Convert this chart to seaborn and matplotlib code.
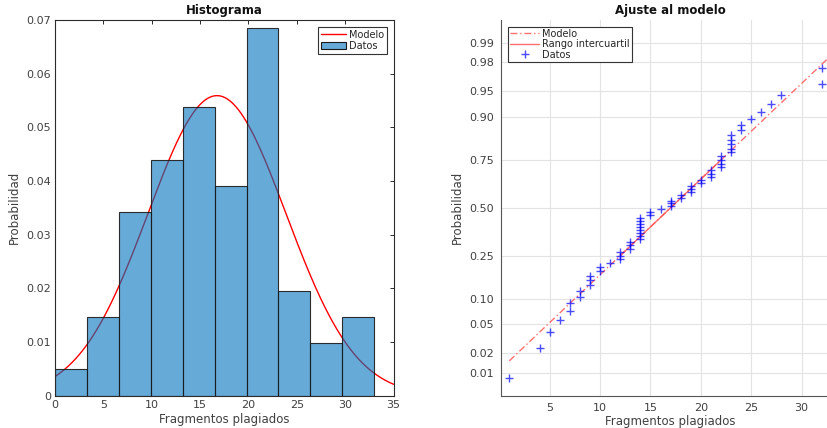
import numpy as np
import matplotlib
matplotlib.use("Agg")
import matplotlib.pyplot as plt
import seaborn as sns
from statistics import NormalDist
from matplotlib.lines import Line2D
from matplotlib.patches import Patch

# Número de fragmentos plagiados por documento (n = 62)
fragmentos = [1, 4, 5, 6, 7, 7, 8, 8, 9, 9, 9, 10, 10, 11, 12, 12, 12,
              13, 13, 13, 14, 14, 14, 14, 14, 14, 14, 14, 15, 15, 16,
              17, 17, 17, 18, 18, 19, 19, 19, 20, 20, 21, 21, 21,
              22, 22, 22, 22, 23, 23, 23, 23, 23, 24, 24, 25, 26, 27,
              28, 32, 32, 33]
bordes_hist = np.linspace(0, 33, 11)
hist_xticks = [0, 5, 10, 15, 20, 25, 30, 35]
hist_yticks = [0, 0.01, 0.02, 0.03, 0.04, 0.05, 0.06, 0.07]
hist_ylabels = ["0", "0.01", "0.02", "0.03", "0.04", "0.05", "0.06", "0.07"]
prob_ticks = [0.01, 0.02, 0.05, 0.10, 0.25, 0.50, 0.75, 0.90, 0.95, 0.98, 0.99]
prob_labels = ["0.01", "0.02", "0.05", "0.10", "0.25", "0.50",
               "0.75", "0.90", "0.95", "0.98", "0.99"]
qq_xticks = [5, 10, 15, 20, 25, 30]

sns.set_theme(style="white")
plt.rcParams["font.family"] = ["DejaVu Sans"]

TXT = "#404040"
AXC = "#2b2b2b"

datos = np.array(fragmentos, dtype=float)
n = len(datos)
mu = datos.mean()
sd = datos.std(ddof=1)
nd = NormalDist()

fig = plt.figure(figsize=(8.28, 4.28), dpi=100)
ax1 = fig.add_axes([0.0664, 0.0755, 0.409, 0.878])
ax2 = fig.add_axes([0.6054, 0.0755, 0.409, 0.878])

# ---------- Histograma con la normal ajustada ----------
xs = np.linspace(0, 35, 400)
pdf = np.exp(-0.5 * ((xs - mu) / sd) ** 2) / (sd * np.sqrt(2 * np.pi))
sns.lineplot(x=xs, y=pdf, color="red", linewidth=1.0, ax=ax1, zorder=1)
sns.histplot(x=datos, bins=bordes_hist, stat="density", ax=ax1,
             color="#0072BD", zorder=2)
for p in ax1.patches:
    p.set_alpha(None)
    p.set_facecolor((0.0, 0.447, 0.741, 0.6))
    p.set_edgecolor((0.1, 0.1, 0.1, 0.9))
    p.set_linewidth(0.8)

ax1.set_xlim(0, 35)
ax1.set_ylim(0, 0.07)
ax1.set_xticks(hist_xticks)
ax1.set_yticks(hist_yticks)
ax1.set_yticklabels(hist_ylabels)
ax1.tick_params(direction="in", top=True, right=True, length=3, width=0.7,
                labelsize=8, colors=AXC, labelcolor=TXT, pad=3)
for s in ax1.spines.values():
    s.set_color(AXC)
    s.set_linewidth(0.8)
ax1.set_title("Histograma", fontsize=8.5, fontweight="bold", color="#111111", pad=4)
ax1.set_xlabel("Fragmentos plagiados", fontsize=8.5, color=TXT, labelpad=2)
ax1.set_ylabel("Probabilidad", fontsize=8.5, color=TXT, labelpad=4)
h1 = [Line2D([], [], color="red", lw=1.0),
      Patch(facecolor=(0.0, 0.447, 0.741, 0.6), edgecolor="#1a1a1a", lw=0.8)]
leg1 = ax1.legend(h1, ["Modelo", "Datos"], loc="upper right", fontsize=7,
                  fancybox=False, framealpha=1, edgecolor="#333333",
                  borderpad=0.3, handlelength=2.6, handletextpad=0.3,
                  labelspacing=0.1, borderaxespad=0.7)
leg1.get_frame().set_linewidth(0.8)
for t in leg1.get_texts():
    t.set_color("#262626")

# ---------- Gráfico de probabilidad normal ----------
orden = np.sort(datos)
z = np.array([nd.inv_cdf((i - 0.5) / n) for i in range(1, n + 1)])
q1, q3 = np.percentile(orden, [25, 75], method="hazen")
zq = nd.inv_cdf(0.75)
pend = (2 * zq) / (q3 - q1)
centro = (q1 + q3) / 2
lx = np.array([orden[0], orden[-1]])
sns.lineplot(x=lx, y=(lx - centro) * pend, ax=ax2, color="#ff4d4d",
             linewidth=1.0, linestyle=(0, (5, 2, 1, 2)), alpha=0.8, zorder=2)
iq = np.array([q1, q3])
sns.lineplot(x=iq, y=(iq - centro) * pend, ax=ax2, color="#ff4d4d",
             linewidth=1.0, alpha=0.8, zorder=2)
sns.scatterplot(x=orden, y=z, ax=ax2, marker="+", color="blue", s=40,
                linewidth=1.0, alpha=0.7, zorder=3)

rango = orden[-1] - orden[0]
ax2.set_xlim(orden[0] - 0.025 * rango, orden[-1] + 0.025 * rango)
zlim = nd.inv_cdf(1 - 0.25 / n)
ax2.set_ylim(-zlim, zlim)
ax2.set_xticks(qq_xticks)
ax2.set_yticks([nd.inv_cdf(p) for p in prob_ticks])
ax2.set_yticklabels(prob_labels)
ax2.grid(True, color="#e3e3e3", linewidth=0.8)
ax2.set_axisbelow(True)
ax2.tick_params(direction="in", length=0, labelsize=8, colors=AXC,
                labelcolor=TXT, pad=5)
ax2.spines["top"].set_visible(False)
ax2.spines["right"].set_visible(False)
for s in ("left", "bottom"):
    ax2.spines[s].set_color("#555555")
    ax2.spines[s].set_linewidth(0.8)
ax2.set_title("Ajuste al modelo", fontsize=8.5, fontweight="bold", color="#111111", pad=4)
ax2.set_xlabel("Fragmentos plagiados", fontsize=8.5, color=TXT, labelpad=2)
ax2.set_ylabel("Probabilidad", fontsize=8.5, color=TXT, labelpad=4)
h2 = [Line2D([], [], color="#ff4d4d", lw=1.0, ls=(0, (5, 2, 1, 2)), alpha=0.8),
      Line2D([], [], color="#ff4d4d", lw=1.0, alpha=0.8),
      Line2D([], [], color="blue", marker="+", ls="none", ms=6, mew=1.0, alpha=0.7)]
leg2 = ax2.legend(h2, ["Modelo", "Rango intercuartil", "Datos"], loc="upper left",
                  fontsize=7, fancybox=False, framealpha=1, edgecolor="#333333",
                  borderpad=0.2, handlelength=3.0, handletextpad=0.3,
                  labelspacing=0.05, borderaxespad=0.7)
leg2.get_frame().set_linewidth(0.8)
for t in leg2.get_texts():
    t.set_color("#262626")

fig.savefig("out.png", dpi=100)
